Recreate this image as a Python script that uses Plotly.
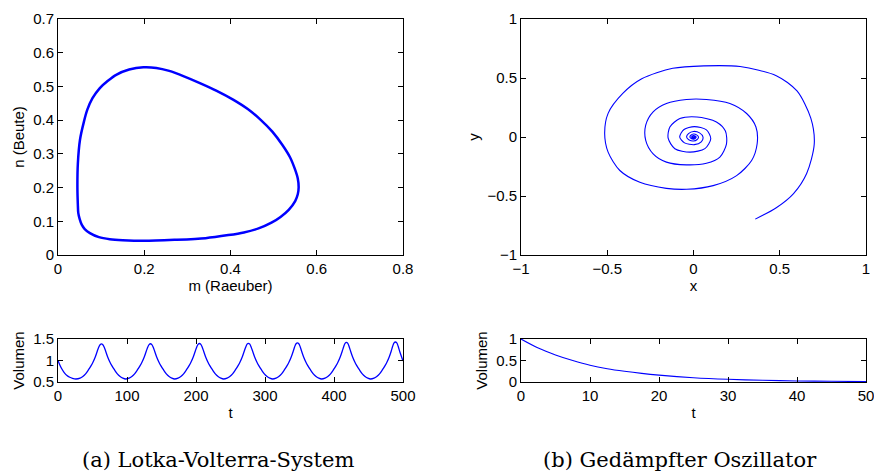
import plotly.graph_objects as go

# ---- Data: Lotka-Volterra phase orbit (m = Raeuber, n = Beute) ----
lv_m = [0.045, 0.046, 0.051, 0.060, 0.068, 0.080, 0.097, 0.115, 0.136, 0.165, 0.198,
        0.228, 0.258, 0.292, 0.329, 0.368, 0.406, 0.440, 0.470, 0.497, 0.520, 0.538, 0.549, 0.556, 0.558,
        0.556, 0.550, 0.535, 0.516, 0.495, 0.465, 0.431, 0.395, 0.342, 0.270, 0.200,
        0.150, 0.120, 0.095, 0.074, 0.062, 0.055, 0.050, 0.047, 0.046, 0.045]
lv_n = [0.200, 0.270, 0.342, 0.395, 0.431, 0.465, 0.495, 0.516, 0.535, 0.550, 0.557,
        0.555, 0.546, 0.530, 0.510, 0.487, 0.461, 0.433, 0.401, 0.366, 0.327, 0.290, 0.256, 0.227, 0.200,
        0.180, 0.160, 0.134, 0.113, 0.096, 0.079, 0.067, 0.059, 0.050, 0.045, 0.042,
        0.044, 0.047, 0.053, 0.065, 0.077, 0.090, 0.108, 0.125, 0.150, 0.200]

# ---- Data: Lotka-Volterra volume over time ----
lv_t = [0, 2, 5, 9, 13, 17, 21, 26,
        32, 36, 40, 44, 48, 51, 54, 57, 59, 61, 63, 65, 67, 69, 72, 75, 78, 82, 86, 90, 94, 98,
        103, 107, 111, 115, 119, 122, 125, 128, 130, 132, 134, 136, 138, 140, 143, 146, 149, 153, 157, 161, 165, 169,
        174, 178, 182, 186, 190, 193, 196, 199, 201, 203, 205, 207, 209, 211, 214, 217, 220, 224, 228, 232, 236, 240,
        245, 249, 253, 257, 261, 264, 267, 270, 272, 274, 276, 278, 280, 282, 285, 288, 291, 295, 299, 303, 307, 311,
        316, 320, 324, 328, 332, 335, 338, 341, 343, 345, 347, 349, 351, 353, 356, 359, 362, 366, 370, 374, 378, 382,
        387, 391, 395, 399, 403, 406, 409, 412, 414, 416, 418, 420, 422, 424, 427, 430, 433, 437, 441, 445, 449, 453,
        458, 462, 466, 470, 474, 477, 480, 483, 485, 487, 489, 491, 493, 495, 498, 500]
lv_v = [1.00, 0.92, 0.82, 0.72, 0.65, 0.61, 0.585, 0.57,
        0.59, 0.63, 0.69, 0.78, 0.88, 0.97, 1.08, 1.22, 1.31, 1.365, 1.385, 1.365, 1.31, 1.22, 1.08, 0.97, 0.88, 0.78, 0.69, 0.63, 0.59, 0.57,
        0.59, 0.63, 0.69, 0.78, 0.88, 0.97, 1.08, 1.22, 1.31, 1.37, 1.39, 1.37, 1.31, 1.22, 1.08, 0.97, 0.88, 0.78, 0.69, 0.63, 0.59, 0.57,
        0.59, 0.63, 0.69, 0.78, 0.88, 0.97, 1.08, 1.22, 1.31, 1.375, 1.395, 1.375, 1.31, 1.22, 1.08, 0.97, 0.88, 0.78, 0.69, 0.63, 0.59, 0.57,
        0.59, 0.63, 0.69, 0.78, 0.88, 0.97, 1.08, 1.22, 1.31, 1.38, 1.40, 1.38, 1.31, 1.22, 1.08, 0.97, 0.88, 0.78, 0.69, 0.63, 0.59, 0.57,
        0.59, 0.63, 0.69, 0.78, 0.88, 0.97, 1.08, 1.22, 1.32, 1.39, 1.41, 1.39, 1.32, 1.22, 1.08, 0.97, 0.88, 0.78, 0.69, 0.63, 0.59, 0.57,
        0.59, 0.63, 0.69, 0.78, 0.88, 0.97, 1.08, 1.22, 1.32, 1.40, 1.42, 1.40, 1.32, 1.22, 1.08, 0.97, 0.88, 0.78, 0.69, 0.63, 0.59, 0.57,
        0.59, 0.63, 0.69, 0.78, 0.88, 0.97, 1.08, 1.22, 1.33, 1.41, 1.43, 1.41, 1.33, 1.22, 1.08, 0.99]

# ---- Data: damped oscillator phase spiral ----
osc_x = [0.358, 0.48, 0.58, 0.656, 0.70, 0.68, 0.60, 0.48, 0.27, 0.06,
         -0.12, -0.30, -0.41, -0.495, -0.515, -0.495, -0.427, -0.311, -0.157, -0.04,
         0.114, 0.25, 0.337, 0.369, 0.362, 0.308, 0.211, 0.075, -0.041, -0.157,
         -0.234, -0.277, -0.277, -0.234, -0.157, -0.041, 0.075, 0.153, 0.191, 0.185,
         0.133, 0.02, -0.079, -0.137, -0.147, -0.108, -0.02, 0.066, 0.10, 0.075,
         0.005, -0.055, -0.08, -0.052, 0.005, 0.045, 0.055, 0.035, 0.0, -0.029,
         -0.040, -0.025, 0.0, 0.021, 0.029, 0.018, 0.0, -0.015, -0.021, -0.013,
         0.0, 0.011, 0.0155, 0.0095, 0.0, -0.008, -0.011, -0.007, 0.0, 0.006,
         0.0083, 0.005, 0.0, -0.0043, -0.006, -0.0035, 0.0, 0.003, 0.0044]
osc_y = [-0.696, -0.60, -0.48, -0.31, -0.06, 0.16, 0.39, 0.52, 0.597, 0.603,
         0.582, 0.493, 0.369, 0.20, 0.03, -0.128, -0.284, -0.384, -0.435, -0.443,
         -0.412, -0.327, -0.199, -0.057, 0.085, 0.199, 0.284, 0.318, 0.318, 0.284,
         0.213, 0.10, -0.028, -0.142, -0.213, -0.236, -0.222, -0.17, -0.06, 0.05,
         0.128, 0.17, 0.156, 0.085, -0.01, -0.099, -0.128, -0.099, -0.014, 0.06,
         0.088, 0.064, 0.0, -0.05, -0.065, -0.042, 0.0, 0.035, 0.047, 0.029,
         0.0, -0.025, -0.034, -0.021, 0.0, 0.018, 0.025, 0.015, 0.0, -0.013,
         -0.018, -0.011, 0.0, 0.0095, 0.013, 0.008, 0.0, -0.007, -0.0095, -0.006,
         0.0, 0.005, 0.007, 0.0043, 0.0, -0.0035, -0.005, -0.003, 0.0]

# ---- Data: damped oscillator volume over time ----
osc_t = [0, 2.5, 5, 7.5, 10, 12.5, 15, 17.5, 20, 25, 30, 35, 40, 45, 50]
osc_v = [1.0, 0.79, 0.63, 0.50, 0.39, 0.31, 0.25, 0.20, 0.16, 0.10, 0.063, 0.04, 0.025, 0.016, 0.01]

# ---- Tick values ----
tl_xticks = [0, 0.2, 0.4, 0.6, 0.8]
tl_yticks = [0, 0.1, 0.2, 0.3, 0.4, 0.5, 0.6, 0.7]
tr_ticks = [-1, -0.5, 0, 0.5, 1]
bl_xticks = [0, 100, 200, 300, 400, 500]
bl_yticks = [0.5, 1, 1.5]
br_xticks = [0, 10, 20, 30, 40, 50]
br_yticks = [0, 0.5, 1]

captions = ["(a) Lotka-Volterra-System", "(b) Gedämpfter Oszillator"]

BLUE = "#0000ff"
W, H = 874, 473

fig = go.Figure()
fig.add_trace(go.Scatter(x=lv_m, y=lv_n, mode="lines",
                         line=dict(color=BLUE, width=2.5, shape="spline", smoothing=0.8),
                         xaxis="x", yaxis="y", showlegend=False))
fig.add_trace(go.Scatter(x=osc_x, y=osc_y, mode="lines",
                         line=dict(color=BLUE, width=1.1, shape="spline", smoothing=0.8),
                         xaxis="x2", yaxis="y2", showlegend=False))
fig.add_trace(go.Scatter(x=lv_t, y=lv_v, mode="lines",
                         line=dict(color=BLUE, width=1.3, shape="spline", smoothing=0.7),
                         xaxis="x3", yaxis="y3", showlegend=False))
fig.add_trace(go.Scatter(x=osc_t, y=osc_v, mode="lines",
                         line=dict(color=BLUE, width=1.1, shape="spline", smoothing=0.8),
                         xaxis="x4", yaxis="y4", showlegend=False))

FONT = "Liberation Sans, Arial, Helvetica, sans-serif"
tickfont = dict(family=FONT, size=15, color="black")
titlefont = dict(family=FONT, size=15, color="black")

def ax(domain, rng, ticks, title, anchor, standoff=4):
    return dict(domain=domain, range=rng, tickvals=ticks, ticks="inside", ticklen=5,
                tickcolor="black", showline=True, linecolor="black", linewidth=1,
                mirror="ticks", showgrid=False, zeroline=False, tickfont=tickfont,
                ticklabeloverflow="allow",
                title=dict(text=title, font=titlefont, standoff=standoff), anchor=anchor,
                automargin=False, fixedrange=True)

xl = [58 / W, 403 / W]
xr = [521 / W, 866 / W]
yt = [1 - 255 / H, 1 - 19 / H]
yb = [1 - 382 / H, 1 - 339 / H]

fig.update_layout(
    width=W, height=H, margin=dict(l=0, r=0, t=0, b=0, autoexpand=False),
    paper_bgcolor="white", plot_bgcolor="white",
    xaxis=ax(xl, [0, 0.8], tl_xticks, "m (Raeuber)", "y"),
    yaxis=ax(yt, [0, 0.7], tl_yticks, "n (Beute)", "x"),
    xaxis2=ax(xr, [-1, 1], tr_ticks, "x", "y2"),
    yaxis2=ax(yt, [-1, 1], tr_ticks, "y", "x2"),
    xaxis3=ax(xl, [0, 500], bl_xticks, "t", "y3"),
    yaxis3=ax(yb, [0.5, 1.5], bl_yticks, "Volumen", "x3"),
    xaxis4=ax(xr, [0, 50], br_xticks, "t", "y4"),
    yaxis4=ax(yb, [0, 1], br_yticks, "Volumen", "x4"),
)

capfont = dict(family="DejaVu Serif, serif", size=21, color="black")
fig.add_annotation(text=captions[0], x=218 / W, y=1 - 460 / H, xref="paper", yref="paper",
                   showarrow=False, font=capfont, xanchor="center", yanchor="middle")
fig.add_annotation(text=captions[1], x=680 / W, y=1 - 460 / H, xref="paper", yref="paper",
                   showarrow=False, font=capfont, xanchor="center", yanchor="middle")

fig.write_html("out.html")
